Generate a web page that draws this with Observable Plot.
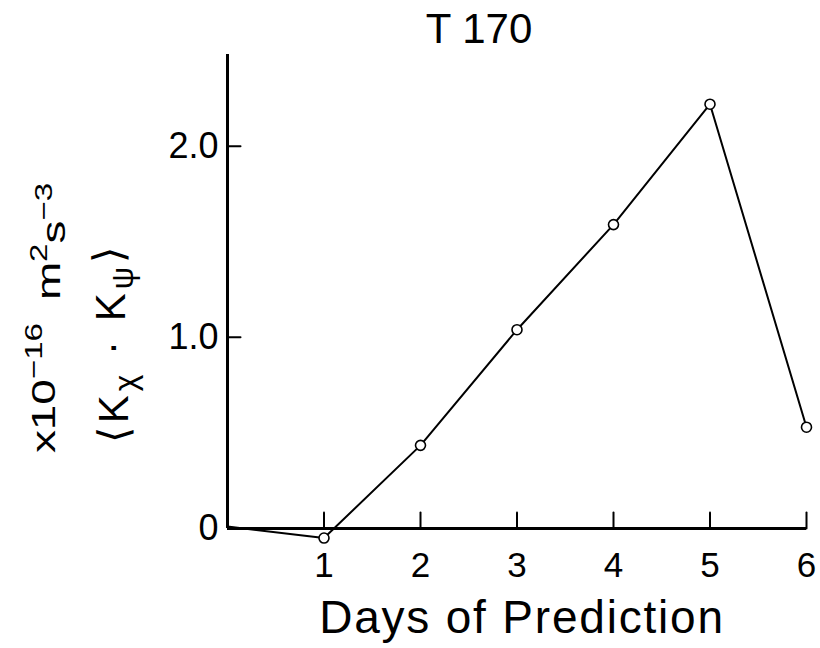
<!DOCTYPE html>
<html><head><meta charset="utf-8">
<script src="https://cdn.jsdelivr.net/npm/d3@7"></script>
<script src="https://cdn.jsdelivr.net/npm/@observablehq/plot@0.6"></script>
<style>body{margin:0;background:#fff} #chart{width:820px;height:648px}</style>
</head><body><div id="chart"></div>
<script>
const days = [0, 1, 2, 3, 4, 5, 6];
const values = [0.01, -0.05, 0.435, 1.04, 1.59, 2.22, 0.53];
const markedDays = [1, 2, 3, 4, 5, 6];
const xTicks = [1, 2, 3, 4, 5, 6];
const yTicks = [0, 1, 2];
const yTickLabels = ["0", "1.0", "2.0"];
const title = "T 170";
const xLabel = "Days of Prediction";

const series = days.map((d, i) => ({day: d, value: values[i]}));
const marked = series.filter(d => markedDays.includes(d.day));
const tickShape = {draw(ctx, l) { ctx.moveTo(0, 0); ctx.lineTo(0, -l); }};
const FONT = "'Liberation Sans', Arial, sans-serif";

const svg = Plot.plot({
  width: 820, height: 648,
  marginLeft: 227, marginRight: 14, marginTop: 54, marginBottom: 120,
  x: {domain: [0, 6]},
  y: {domain: [0, 2.48]},
  style: {fontFamily: FONT, color: "#000", background: "#fff"},
  marks: [
    Plot.ruleX([0], {stroke: "#000", strokeWidth: 3}),
    Plot.ruleY([0], {stroke: "#000", strokeWidth: 3}),
    Plot.vector(xTicks, {x: d => d, y: 0, length: 16, rotate: 0, anchor: "start", shape: tickShape, stroke: "#000", strokeWidth: 2}),
    Plot.vector(yTicks.filter(d => d > 0), {x: 0, y: d => d, length: 13, rotate: 90, anchor: "start", shape: tickShape, stroke: "#000", strokeWidth: 2}),
    Plot.axisX({ticks: xTicks, tickSize: 0, tickPadding: 24, fontSize: 35, label: null, tickFormat: d => String(d)}),
    Plot.axisY({ticks: yTicks, tickSize: 0, tickPadding: 9, fontSize: 36, label: null, tickFormat: d => yTickLabels[yTicks.indexOf(d)]}),
    Plot.line(series, {x: "day", y: "value", stroke: "#000", strokeWidth: 2}),
    Plot.dot(marked, {x: "day", y: "value", r: 5, fill: "#fff", stroke: "#000", strokeWidth: 1.6})
  ]
});

const s = d3.select(svg);
const g = s.append("g").attr("font-family", FONT).attr("fill", "#000");
g.append("text").attr("x", 479).attr("y", 43).attr("text-anchor", "middle").attr("font-size", 42).text(title);
g.append("text").attr("x", 522).attr("y", 633).attr("text-anchor", "middle").attr("font-size", 46).attr("letter-spacing", 1.8).text(xLabel);

const t1 = g.append("text").attr("transform", "translate(55,318) rotate(-90) scale(1.35,1)").attr("text-anchor", "middle").attr("font-size", 34);
t1.append("tspan").text("x10");
t1.append("tspan").attr("dy", "-0.55em").attr("font-size", "0.72em").text("\u221216");
t1.append("tspan").attr("dy", "0.55em").attr("dx", "0.5em").text("m");
t1.append("tspan").attr("dy", "-0.55em").attr("font-size", "0.72em").text("2");
t1.append("tspan").attr("dy", "0.55em").text("s");
t1.append("tspan").attr("dy", "-0.55em").attr("font-size", "0.72em").text("\u22123");

const t2 = g.append("text").attr("transform", "translate(128,343) rotate(-90)").attr("text-anchor", "middle").attr("font-size", 42).attr("letter-spacing", 4);
t2.append("tspan").text("\u27E8K");
t2.append("tspan").attr("dy", "0.25em").attr("font-size", "0.75em").text("\u03C7");
t2.append("tspan").attr("dy", "-0.25em").text(" \u00B7 K");
t2.append("tspan").attr("dy", "0.25em").attr("font-size", "0.75em").text("\u03C8");
t2.append("tspan").attr("dy", "-0.25em").text("\u27E9");

document.getElementById("chart").appendChild(svg);
</script>
</body></html>
